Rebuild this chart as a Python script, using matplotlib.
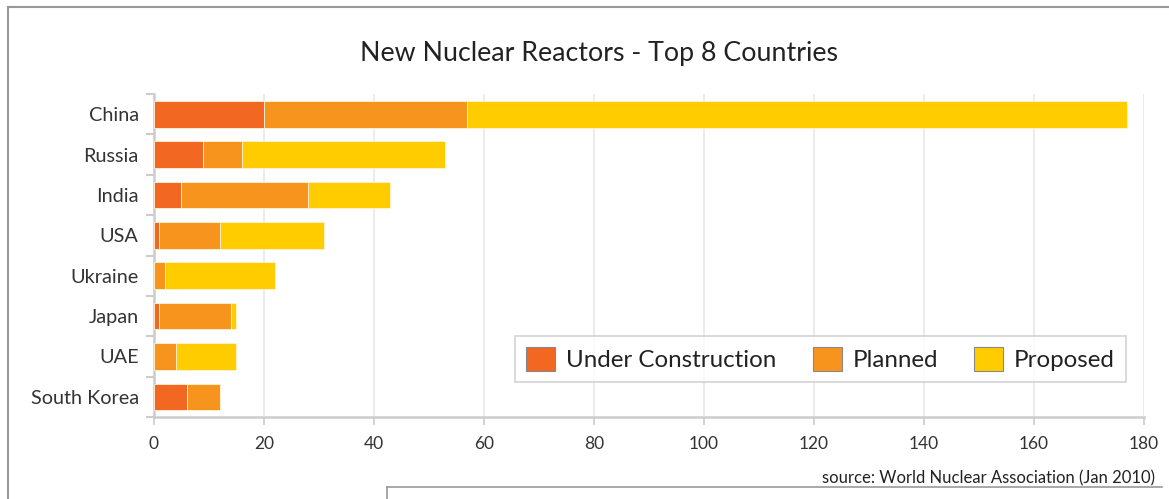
import matplotlib.pyplot as plt
from matplotlib.lines import Line2D
from matplotlib.patches import Patch

countries = ['China', 'Russia', 'India', 'USA', 'Ukraine', 'Japan', 'UAE', 'South Korea']
under_construction = [20, 9, 5, 1, 0, 1, 0, 6]
planned = [37, 7, 23, 11, 2, 13, 4, 6]
proposed = [120, 37, 15, 19, 20, 1, 11, 0]
xticks = [0, 20, 40, 60, 80, 100, 120, 140, 160, 180]

series_names = ['Under Construction', 'Planned', 'Proposed']
colors = ['#F26722', '#F7941E', '#FFCC00']

plt.rcParams['font.family'] = ['Lato', 'DejaVu Sans']

fig = plt.figure(figsize=(11.69, 4.99), dpi=100)
ax = fig.add_axes([0.1317, 0.1643, 0.8469, 0.6473])

ypos = list(range(len(countries)))
left = [0] * len(countries)
for vals, col in zip([under_construction, planned, proposed], colors):
    ax.barh(ypos, vals, left=left, height=0.66, color=col,
            edgecolor='#fff3d6', linewidth=0.6, zorder=3)
    left = [l + v for l, v in zip(left, vals)]

ax.set_ylim(len(countries) - 0.5, -0.5)
ax.set_xlim(0, 180)

# y axis: labels at centres, small tick marks at band boundaries
ax.set_yticks(ypos)
ax.set_yticklabels(countries, fontsize=14.3, color='#333333')
ax.tick_params(axis='y', which='major', length=0, pad=11)
ax.set_yticks([i - 0.5 for i in range(len(countries) + 1)], minor=True)
ax.tick_params(axis='y', which='minor', length=6, width=1.5, color='#cccccc')

ax.set_xticks(xticks)
ax.set_xticklabels([str(t) for t in xticks], fontsize=12.5, color='#333333')
ax.tick_params(axis='x', length=6, width=1.2, color='#cccccc', pad=8)
ax.grid(axis='x', color='#e8e8e8', linewidth=1.2, zorder=0)

for s in ['top', 'right']:
    ax.spines[s].set_visible(False)
for s in ['left', 'bottom']:
    ax.spines[s].set_color('#cccccc')
    ax.spines[s].set_linewidth(1.8)

handles = [Patch(facecolor=c, edgecolor='#888888', linewidth=0.8) for c in colors]
leg = ax.legend(handles, series_names, ncol=3, loc='lower right',
                bbox_to_anchor=(0.9818, 0.108), borderaxespad=0, fontsize=17.4,
                frameon=True, fancybox=False, handlelength=1.2,
                handleheight=1.15, handletextpad=0.45, columnspacing=1.5,
                borderpad=0.45, labelcolor='#222222')
leg.get_frame().set_edgecolor('#cccccc')
leg.get_frame().set_linewidth(1.3)

fig.text(0.512, 0.893, 'New Nuclear Reactors - Top 8 Countries',
         ha='center', va='center', fontsize=19.3, color='#222222')
fig.text(0.988, 0.042, 'source: World Nuclear Association (Jan 2010)',
         ha='right', va='center', fontsize=12, color='#222222')

# outer frame lines
W, H = 1169, 499
fig.add_artist(Line2D([8 / W, 8 / W], [0, 1 - 7 / H], color='#999999', lw=1.5))
fig.add_artist(Line2D([8 / W, 1], [1 - 7 / H, 1 - 7 / H], color='#999999', lw=1.5))
fig.add_artist(Line2D([387 / W, 387 / W], [0, 1 - 487 / H], color='#999999', lw=1.2))
fig.add_artist(Line2D([387 / W, 1162 / W], [1 - 487 / H, 1 - 487 / H], color='#999999', lw=1.2))

fig.savefig('out.png', dpi=100)
